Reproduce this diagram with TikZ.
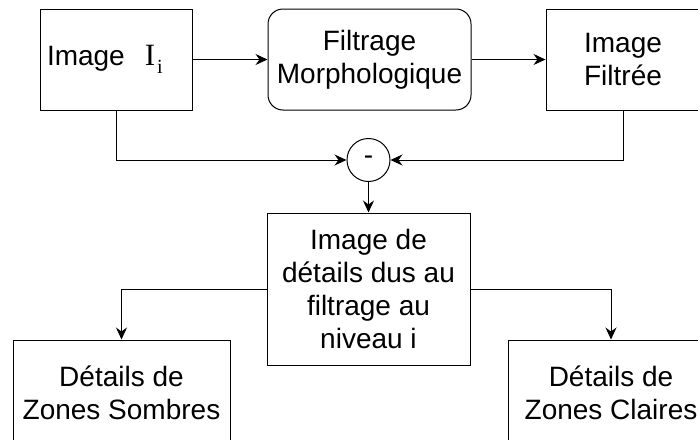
\documentclass[tikz,border=0pt]{standalone}
\usepackage[no-math]{fontspec}
\setmainfont{Liberation Sans}
\newfontfamily\serifi{Liberation Serif}
\usetikzlibrary{arrows.meta}

\tikzset{
  blk/.style={draw, align=center, inner sep=0pt, font=\fontsize{28}{33}\selectfont},
  diff/.style={draw, circle, inner sep=0pt, minimum size=43pt, font=\fontsize{28}{33}\selectfont},
}

\begin{document}
\begin{tikzpicture}[x=1pt, y=-1pt, line width=1pt, >={Stealth[length=12pt,width=11pt,inset=4pt]}]
  \useasboundingbox (0,0) rectangle (698,439);
  \clip (0,0) rectangle (698,439);

  % ligne du haut
  \node[blk, minimum width=152pt, minimum height=101pt, text width=138pt, align=left, inner xsep=7pt] (img) at (116,59.5) {Image\hspace{20pt}{\serifi\fontsize{31}{31}\selectfont I}\hspace{2pt}\raisebox{-8pt}{\serifi\fontsize{20}{20}\selectfont i}};
  \node[blk, rounded corners=15pt, minimum width=203pt, minimum height=101pt] (filt) at (369.5,59.5) {Filtrage\\Morphologique};
  \node[blk, minimum width=154pt, minimum height=101pt] (res) at (623,59.5) {Image\\Filtrée};

  % soustraction
  \node[diff] (sub) at (368.5,160) {-};

  \node[blk, minimum width=203pt, minimum height=152pt] (det) at (368.5,289) {Image de\\détails dus au\\filtrage au\\niveau i};

  % sorties
  \node[blk, minimum width=217pt, minimum height=106pt] (sombre) at (121.5,393) {Détails de\\Zones Sombres};
  \node[blk, minimum width=206pt, minimum height=106pt] (claire) at (611,393) {Détails de\\Zones Claires};

  \draw[->] (img) -- (filt);
  \draw[->] (filt) -- (res);
  \draw[->] (img.south) |- (sub.west);
  \draw[->] (res.south) |- (sub.east);
  \draw[->] (sub) -- (det);
  \draw[->] (det.west) -| (sombre.north);
  \draw[->] (det.east) -| (claire.north);
\end{tikzpicture}
\end{document}
